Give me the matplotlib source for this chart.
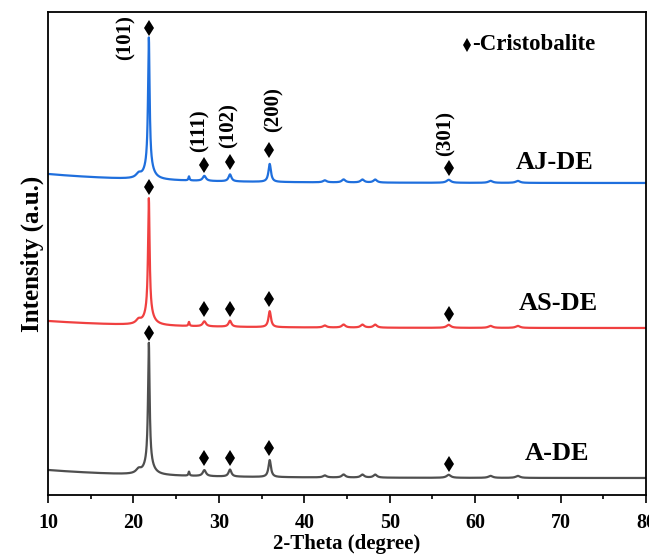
import numpy as np
import matplotlib.pyplot as plt

plt.rcParams["font.family"] = ["Liberation Serif", "DejaVu Serif"]
plt.rcParams["font.weight"] = "bold"

# peak lists: position (deg), height, fwhm (deg)
peak_pos = [20.6, 21.8, 21.8, 26.5, 28.3, 31.3, 35.95, 42.4, 44.6, 46.8, 48.3, 56.9, 61.8, 65.0]
peak_fwhm = [0.7, 0.22, 1.1, 0.15, 0.45, 0.4, 0.35, 0.5, 0.5, 0.5, 0.5, 0.6, 0.6, 0.6]

aj_heights = [4, 128, 14, 4, 5, 7, 18, 2, 3, 3, 3, 3, 2, 2]
as_heights = [4, 114, 13, 4, 5, 6, 16, 2, 3, 3, 3, 3, 2, 2]
a_heights = [4, 119, 13, 4, 6, 7, 17, 2, 3, 3, 3, 3, 2, 2]

# background: value at 10 deg, value at 80 deg
aj_bg = [321, 312]
as_bg = [174, 167]
a_bg = [25, 17]

samples = ["AJ-DE", "AS-DE", "A-DE"]
colors = ["#1f6fdd", "#f04040", "#4f4f4f"]

# cristobalite marks
mark_pos = [21.8, 28.2, 31.3, 35.9, 56.9]
aj_marks = [467, 330, 333, 345, 327]
as_marks = [308, 186, 186, 196, 181]
a_marks = [162, 37, 37, 47, 31]
hkl = ["(101)", "(111)", "(102)", "(200)", "(301)"]


def pattern(x, heights, bg):
    y = bg[1] + (bg[0] - bg[1]) * np.exp(-(x - 10) / 12.0)
    for p, h, w in zip(peak_pos, heights, peak_fwhm):
        y = y + h / (1 + ((x - p) / (w / 2)) ** 2)
    return y


x = np.linspace(10, 80, 3500)

fig = plt.figure(figsize=(6.49, 5.58), dpi=100)
ax = fig.add_axes([0.074, 0.1129, 0.9214, 0.8656])

for name, col, hts, bg, mk in zip(samples, colors,
                                  [aj_heights, as_heights, a_heights],
                                  [aj_bg, as_bg, a_bg],
                                  [aj_marks, as_marks, a_marks]):
    ax.plot(x, pattern(x, hts, bg), color=col, lw=1.6)
    ax.plot(mark_pos, mk, "kd", ms=8, mew=0)

# hkl labels on the top pattern
hkl_x = [19.1, 27.7, 31.1, 36.4, 56.5]
hkl_y = [457, 364, 369, 385, 361]
for t, hx, hy in zip(hkl, hkl_x, hkl_y):
    ax.text(hx, hy, t, rotation=90, ha="center", va="center",
            fontsize=15, fontweight="bold")

label_x = [69.3, 69.7, 69.6]
label_y = [332, 191, 42]
for name, lx, ly in zip(samples, label_x, label_y):
    ax.text(lx, ly, name, ha="center", va="center", fontsize=19, fontweight="bold")

ax.plot([59.1], [450], "kd", ms=7, mew=0)
ax.text(59.7, 450, "-Cristobalite", ha="left", va="center",
        fontsize=16.5, fontweight="bold")

ax.set_xlim(10, 80)
ax.set_ylim(0, 483)
ax.set_xticks(np.arange(10, 81, 10))
ax.set_xticks(np.arange(10, 81, 5), minor=True)
ax.set_yticks([])
ax.tick_params(axis="x", which="major", direction="out", length=6, width=1.2,
               labelsize=14.5, pad=7)
ax.tick_params(axis="x", which="minor", direction="out", length=3, width=1.2)
for s in ax.spines.values():
    s.set_linewidth(1.3)

ax.set_xlabel("2-Theta (degree)", fontsize=15, fontweight="bold", labelpad=1)
ax.set_ylabel("Intensity (a.u.)", fontsize=18, fontweight="bold", labelpad=3)

fig.savefig("out.png", dpi=100)
